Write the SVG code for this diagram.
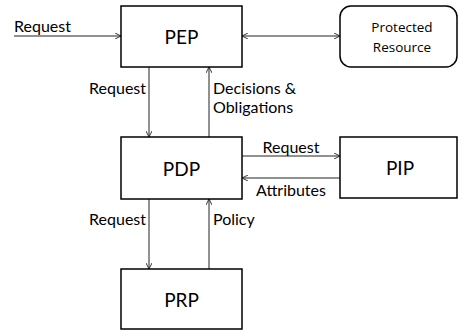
<svg xmlns="http://www.w3.org/2000/svg" width="459" height="330" viewBox="0 0 459 330">
<style>
.box{fill:#fff;stroke:#000;stroke-width:1.5}
.t{font-family:Lato,"Noto Sans",sans-serif;font-size:19px;fill:#000;text-anchor:middle}
.l{font-family:Lato,"Noto Sans",sans-serif;font-size:16px;fill:#000}
.s{font-family:"Open Sans","Noto Sans",sans-serif;font-size:13.5px;fill:#000;text-anchor:middle}
.c{stroke:#222;stroke-width:1;fill:none}
</style>
<defs>
<marker id="ah" viewBox="0 0 10 10" refX="10" refY="5" markerWidth="6" markerHeight="6" markerUnits="userSpaceOnUse" orient="auto-start-reverse">
<path d="M0,0 L10,5 L0,10" fill="none" stroke="#222" stroke-width="1.5"/>
</marker>
</defs>
<g id="connectors">
<line class="c" x1="14" y1="36" x2="121" y2="36" marker-end="url(#ah)"/>
<line class="c" x1="242" y1="36" x2="340" y2="36" marker-start="url(#ah)" marker-end="url(#ah)"/>
<line class="c" x1="149" y1="67" x2="149" y2="137" marker-end="url(#ah)"/>
<line class="c" x1="209" y1="137" x2="209" y2="67" marker-end="url(#ah)"/>
<line class="c" x1="242" y1="156" x2="340" y2="156" marker-end="url(#ah)"/>
<line class="c" x1="340" y1="178" x2="242" y2="178" marker-end="url(#ah)"/>
<line class="c" x1="149" y1="199" x2="149" y2="269" marker-end="url(#ah)"/>
<line class="c" x1="209" y1="269" x2="209" y2="199" marker-end="url(#ah)"/>
<text class="l" x="14" y="32">Request</text>
<text class="l" x="146" y="94" text-anchor="end">Request</text>
<text class="l" x="213" y="94">Decisions &amp;</text>
<text class="l" x="213" y="113">Obligations</text>
<text class="l" x="291" y="153" text-anchor="middle">Request</text>
<text class="l" x="291" y="196" text-anchor="middle">Attributes</text>
<text class="l" x="146" y="225" text-anchor="end">Request</text>
<text class="l" x="213" y="225">Policy</text>
</g>
<g id="PEP">
<rect class="box" x="121" y="6" width="121" height="61"/>
<text class="t" x="181.5" y="44">PEP</text>
</g>
<g id="ProtectedResource">
<rect class="box" x="340" y="6" width="117" height="61" rx="11" ry="11"/>
<text class="s" x="402" y="32">Protected</text>
<text class="s" x="402" y="52">Resource</text>
</g>
<g id="PDP">
<rect class="box" x="121" y="137" width="121" height="62"/>
<text class="t" x="181.5" y="176">PDP</text>
</g>
<g id="PIP">
<rect class="box" x="340" y="137" width="117" height="61"/>
<text class="t" x="400" y="175">PIP</text>
</g>
<g id="PRP">
<rect class="box" x="121" y="269" width="121" height="60"/>
<text class="t" x="181.5" y="307">PRP</text>
</g>
</svg>
